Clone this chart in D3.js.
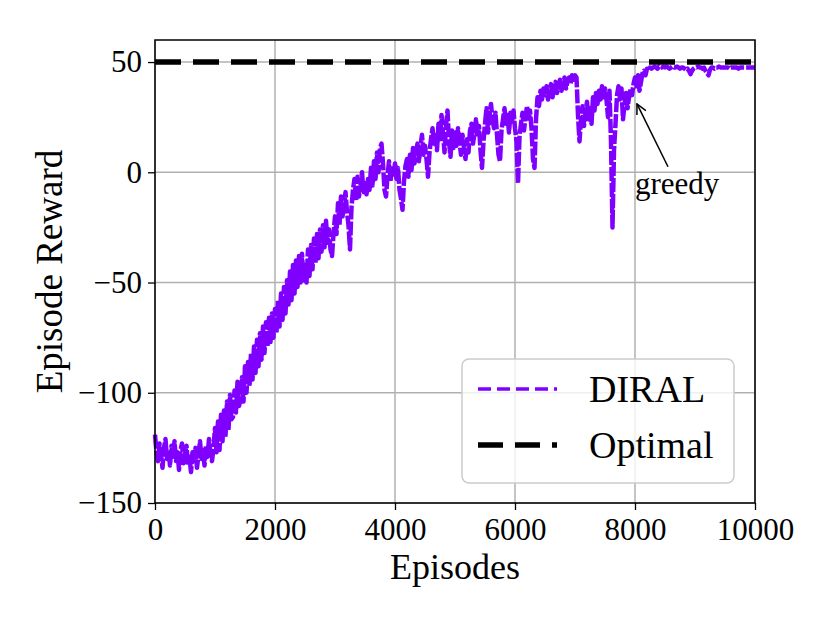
<!DOCTYPE html>
<html>
<head>
<meta charset="utf-8">
<script src="https://cdn.jsdelivr.net/npm/d3@7"></script>
<style>
  body { margin: 0; background: #fff; }
  text { font-family: "Liberation Serif", "Times New Roman", serif; }
</style>
</head>
<body>
<div id="my_dataviz"></div>
<script>

// episodes sampled every 25 steps
var episodes = d3.range(0, 10001, 25);

// DIRAL episode reward (one row = 500 episodes)
var diral = [
  -119, -127, -131, -123, -128, -134, -125, -121, -130, -126, -133, -124, -129, -122, -131, -127, -135, -126, -123, -132,
  -128, -124, -133, -129, -136, -127, -131, -125, -134, -128, -122, -130, -126, -133, -124, -129, -121, -127, -131, -125,
  -116, -127, -113, -126, -110, -122, -108, -120, -104, -117, -101, -112, -111, -99, -109, -95, -106, -103, -93, -104,
  -88, -100, -86, -97, -82, -94, -79, -91, -76, -88, -73, -85, -70, -82, -68, -79, -66, -77, -64, -75,
  -62, -73, -58, -70, -55, -67, -52, -64, -49, -60, -45, -58, -42, -55, -40, -52, -38, -50, -37, -49,
  -42, -50, -35, -47, -33, -44, -30, -41, -28, -39, -26, -36, -24, -34, -22, -32, -26, -35, -38, -28,
  -20, -28, -14, -24, -11, -20, -15, -9, -18, -24, -35, -16, -8, -3, -13, -2, -11, -6, 0, -9,
  -5, -10, -3, -8, 2, -6, 5, -3, 9, 0, 11, 13, 4, -8, -11, -2, 5, -4, 3, -1,
  4, -3, 2, -8, -12, -17, -4, 3, 6, -2, 8, 1, 11, 4, 9, 13, 5, 12, 17, 8,
  12, 6, -2, 9, 15, 20, 13, 18, 10, 22, 15, 26, 18, 9, 21, 28, 14, 7, 19, 11,
  18, 12, 20, 14, 8, 17, 11, 6, 15, 9, 19, 22, 13, 18, 24, 16, 21, 10, 2, 14,
  22, 29, 18, 26, 31, 24, 20, 27, 17, 8, 5, 19, 24, 29, 22, 26, 18, 27, 23, 28,
  20, 14, -5, 16, 22, 27, 19, 25, 30, 23, 28, 20, 6, 2, 24, 34, 30, 37, 33, 38,
  35, 39, 33, 37, 40, 34, 38, 41, 36, 39, 42, 37, 40, 43, 38, 41, 43, 40, 44, 42,
  44, 43, 26, 14, 24, 30, 21, 27, 32, 24, 29, 22, 34, 28, 36, 31, 37, 33, 39, 34,
  38, 33, 25, 37, 14, -25, 10, 22, 35, 39, 33, 38, 24, 31, 36, 29, 34, 38, 35, 40,
  43, 39, 44, 37, 41, 45, 46, 44, 47, 46, 47.5, 47, 47.5, 48, 47.5, 47, 48, 47.5, 47.5, 48,
  47.5, 48, 47.5, 47, 47.5, 48, 47.5, 47.5, 48, 47.5, 47, 47.5, 47.5, 47, 46.5, 47, 46, 44.5, 46, 47,
  47.5, 47.5, 48, 47.5, 47.5, 47, 47.5, 46, 45, 44, 46.5, 47.5, 47.5, 47, 47.5, 47.5, 48, 47.5, 47.5, 47.5,
  47.5, 47.5, 47.5, 47, 47.5, 47.5, 47.5, 47.5, 47.5, 47, 47.5, 47.5, 47.5, 47.5, 47.5, 47.5, 47.5, 47.5, 47.5, 47.5,
  47.5
];

var optimal = 50;

var x_ticks = [0, 2000, 4000, 6000, 8000, 10000];
var y_ticks = [-150, -100, -50, 0, 50];

var series_names = ["DIRAL", "Optimal"];

// set the dimensions and margins of the graph
var margin = {top: 40, right: 76, bottom: 120, left: 155},
    width = 755 - margin.left,
    height = 503 - margin.top;

var svg = d3.select("#my_dataviz")
  .append("svg")
    .attr("width", 830)
    .attr("height", 623)
  .append("g")
    .attr("transform", "translate(" + margin.left + "," + margin.top + ")");

var x = d3.scaleLinear()
  .domain([0, 10000])
  .range([0, width]);

var y = d3.scaleLinear()
  .domain([-150, 60])
  .range([height, 0]);

// grid
svg.append("g")
  .selectAll("line")
  .data(x_ticks)
  .enter()
  .append("line")
    .attr("x1", function(d) { return x(d); })
    .attr("x2", function(d) { return x(d); })
    .attr("y1", 0)
    .attr("y2", height)
    .attr("stroke", "#b0b0b0")
    .attr("stroke-width", 1.5);
svg.append("g")
  .selectAll("line")
  .data(y_ticks)
  .enter()
  .append("line")
    .attr("x1", 0)
    .attr("x2", width)
    .attr("y1", function(d) { return y(d); })
    .attr("y2", function(d) { return y(d); })
    .attr("stroke", "#b0b0b0")
    .attr("stroke-width", 1.5);

// DIRAL curve
var line = d3.line()
  .x(function(d, i) { return x(episodes[i]); })
  .y(function(d) { return y(d); });

svg.append("path")
  .datum(diral)
  .attr("fill", "none")
  .attr("stroke", "#7f00ff")
  .attr("stroke-width", 4.5)
  .attr("stroke-dasharray", "14,2")
  .attr("stroke-linejoin", "round")
  .attr("d", line);

// optimal reward
svg.append("line")
  .attr("x1", x(0))
  .attr("x2", x(10000))
  .attr("y1", y(optimal))
  .attr("y2", y(optimal))
  .attr("stroke", "#000")
  .attr("stroke-width", 5.5)
  .attr("stroke-dasharray", "26,12");

// axes
var xAxis = svg.append("g")
  .attr("transform", "translate(0," + height + ")")
  .call(d3.axisBottom(x).tickValues(x_ticks).tickSize(7).tickPadding(5).tickFormat(d3.format("d")));
var yAxis = svg.append("g")
  .call(d3.axisLeft(y).tickValues(y_ticks).tickSize(7).tickPadding(6));

[xAxis, yAxis].forEach(function(a) {
  a.select(".domain").remove();
  a.selectAll("line").attr("stroke", "#000").attr("stroke-width", 1.3);
  a.selectAll("text")
    .attr("fill", "#000")
    .style("font-size", "31px")
    .style("font-family", "Liberation Serif");
});
xAxis.selectAll("text").attr("dy", "0.8em");

// frame
svg.append("rect")
  .attr("width", width)
  .attr("height", height)
  .attr("fill", "none")
  .attr("stroke", "#000")
  .attr("stroke-width", 1.5);

// axis labels
svg.append("text")
  .attr("x", width / 2)
  .attr("y", height + 76)
  .attr("text-anchor", "middle")
  .style("font-size", "36px")
  .text("Episodes");

svg.append("text")
  .attr("transform", "translate(-93," + (height / 2) + ")rotate(-90)")
  .attr("text-anchor", "middle")
  .style("font-size", "37px")
  .text("Episode Reward");

// greedy annotation
var defs = svg.append("defs");
defs.append("marker")
  .attr("id", "arrow")
  .attr("viewBox", "0 0 12 12")
  .attr("refX", 11)
  .attr("refY", 6)
  .attr("markerWidth", 12)
  .attr("markerHeight", 12)
  .attr("markerUnits", "userSpaceOnUse")
  .attr("orient", "auto")
  .append("path")
    .attr("d", "M1,1 L11,6 L1,11")
    .attr("fill", "none")
    .attr("stroke", "#000")
    .attr("stroke-width", 1.5);

svg.append("line")
  .attr("x1", x(8550))
  .attr("y1", y(2.5))
  .attr("x2", x(8033))
  .attr("y2", y(31))
  .attr("stroke", "#000")
  .attr("stroke-width", 1.5)
  .attr("marker-end", "url(#arrow)");

svg.append("text")
  .attr("x", x(8000))
  .attr("y", y(-9.7))
  .style("font-size", "31px")
  .text("greedy");

// legend
var legend = svg.append("g")
  .attr("transform", "translate(" + (462 - margin.left) + "," + (359 - margin.top) + ")");

legend.append("rect")
  .attr("width", 272)
  .attr("height", 124)
  .attr("rx", 7)
  .attr("fill", "#fff")
  .attr("fill-opacity", 0.8)
  .attr("stroke", "#cccccc")
  .attr("stroke-width", 1.5);

var legend_styles = [
  {color: "#7f00ff", w: 3.5, dash: "13,6"},
  {color: "#000", w: 5.5, dash: "25,12"}
];

series_names.forEach(function(name, i) {
  var yy = 30 + i * 56;
  legend.append("line")
    .attr("x1", 16)
    .attr("x2", 95)
    .attr("y1", yy)
    .attr("y2", yy)
    .attr("stroke", legend_styles[i].color)
    .attr("stroke-width", legend_styles[i].w)
    .attr("stroke-dasharray", legend_styles[i].dash);
  legend.append("text")
    .attr("x", 127)
    .attr("y", yy)
    .attr("dy", "0.35em")
    .style("font-size", "38px")
    .text(name);
});

</script>
</body>
</html>
